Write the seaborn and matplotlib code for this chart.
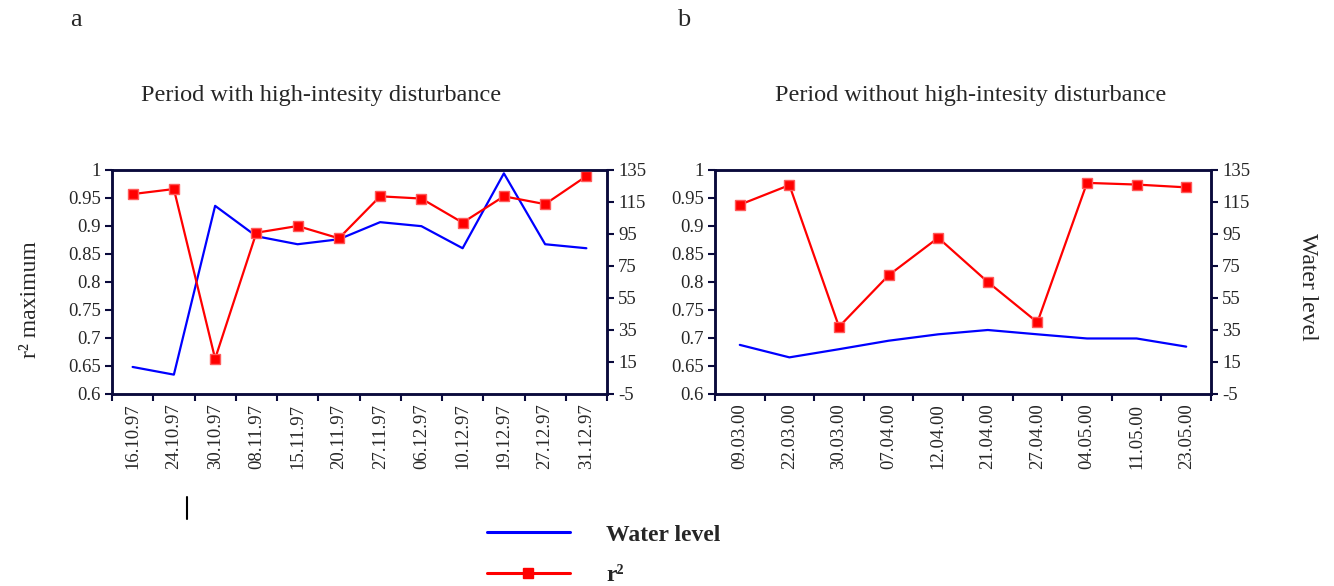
import matplotlib
matplotlib.use("Agg")
import matplotlib.pyplot as plt
import seaborn as sns
import pandas as pd
from matplotlib.lines import Line2D
from matplotlib.ticker import FixedLocator, NullFormatter

# ---------------- data ----------------
dates_a = ["16.10.97", "24.10.97", "30.10.97", "08.11.97", "15.11.97", "20.11.97",
           "27.11.97", "06.12.97", "10.12.97", "19.12.97", "27.12.97", "31.12.97"]
r2_a = [0.957, 0.966, 0.663, 0.888, 0.900, 0.878, 0.953, 0.949, 0.906, 0.953, 0.939, 0.989]
water_a = [11.9, 7.1, 112.6, 93.6, 88.6, 91.7, 102.4, 99.9, 86.1, 132.9, 88.6, 86.1]

dates_b = ["09.03.00", "22.03.00", "30.03.00", "07.04.00", "12.04.00",
           "21.04.00", "27.04.00", "04.05.00", "11.05.00", "23.05.00"]
r2_b = [0.938, 0.973, 0.720, 0.812, 0.879, 0.800, 0.728, 0.977, 0.974, 0.969]
water_b = [25.7, 17.9, 23.0, 28.3, 32.3, 35.0, 32.3, 29.7, 29.7, 24.6]

left_ticks = [0.6, 0.65, 0.7, 0.75, 0.8, 0.85, 0.9, 0.95, 1.0]
right_ticks = [-5, 15, 35, 55, 75, 95, 115, 135]

panel_letters = ["a", "b"]
panel_titles = ["Period with high-intesity disturbance",
                "Period without high-intesity disturbance"]

# ---------------- style ----------------
sns.set_theme(style="white")
plt.rcParams["font.family"] = ["Liberation Serif", "DejaVu Serif"]
SPINE = "#0a0a3c"
RED = "#ff0000"
BLUE = "#0000ff"
TICK_FS = 13.5

fig = plt.figure(figsize=(13.34, 5.86), dpi=100)
H, W = 586, 1334
positions = [
    [112 / W, 1 - 394 / H, 495 / W, 224 / H],
    [715 / W, 1 - 394 / H, 496 / W, 224 / H],
]
title_x = [321 / W, 971 / W]
letter_x = [76 / W, 684 / W]

datasets = [(dates_a, r2_a, water_a), (dates_b, r2_b, water_b)]
for i, (dates, r2, water) in enumerate(datasets):
    df = pd.DataFrame({"pos": range(len(dates)), "r2": r2, "water": water})
    ax = fig.add_axes(positions[i])
    ax2 = ax.twinx()
    ax.set_zorder(ax2.zorder + 1)
    ax.patch.set_visible(False)

    sns.lineplot(data=df, x="pos", y="water", ax=ax2, color=BLUE, lw=1.6,
                 legend=False)
    sns.lineplot(data=df, x="pos", y="r2", ax=ax, color=RED, lw=1.6,
                 marker="s", markersize=7, markerfacecolor=RED,
                 markeredgecolor="#ff5a5a", markeredgewidth=1.0, legend=False)

    n = len(dates)
    ax.set_xlim(-0.5, n - 0.5)
    ax.set_ylim(0.6, 1.0)
    ax2.set_ylim(-5, 135)
    ax.set_yticks(left_ticks)
    ax.set_yticklabels([f"{t:g}" for t in left_ticks])
    ax2.set_yticks(right_ticks)
    ax2.set_yticklabels([f"{t:g}" for t in right_ticks])

    # x ticks: marks at category boundaries, labels at centers
    ax.xaxis.set_major_locator(FixedLocator([k - 0.5 for k in range(n + 1)]))
    ax.xaxis.set_major_formatter(NullFormatter())
    ax.xaxis.set_minor_locator(FixedLocator(list(range(n))))
    ax.set_xticklabels(dates, minor=True, rotation=90, fontsize=TICK_FS)
    ax.tick_params(axis="x", which="minor", length=0, pad=7)
    ax.tick_params(axis="x", which="major", length=5, width=1.5,
                   color=SPINE, direction="out", bottom=True)
    ax.tick_params(axis="y", length=5, width=1.5, color=SPINE,
                   direction="out", left=True, labelsize=TICK_FS, pad=3)
    ax2.tick_params(axis="y", length=5, width=1.5, color=SPINE,
                    direction="out", right=True, labelsize=TICK_FS, pad=3)
    ax.set_xlabel("")
    ax.set_ylabel("")
    ax2.set_ylabel("")
    for a in (ax, ax2):
        for s in a.spines.values():
            s.set_color(SPINE)
            s.set_linewidth(1.8)
    ax.grid(False)
    ax2.grid(False)

    fig.text(title_x[i], 1 - 95 / H, panel_titles[i], ha="center",
             va="center", fontsize=17.5)
    fig.text(letter_x[i], 1 - 20 / H, panel_letters[i], ha="center",
             va="center", fontsize=19)

fig.text(30 / W, 1 - 300 / H, "r² maximum", rotation=90, ha="center",
         va="center", fontsize=17)
fig.text(1307 / W, 1 - 287 / H, "Water level", rotation=270, ha="center",
         va="center", fontsize=17)

# small vertical marker line below panel a
fig.add_artist(Line2D([187 / W, 187 / W], [1 - 497 / H, 1 - 519 / H],
                      transform=fig.transFigure, color="black", lw=1.5))

leg_handles = [
    Line2D([], [], color=BLUE, lw=2.2),
    Line2D([], [], color=RED, lw=2.2, marker="s", markersize=7,
           markerfacecolor=RED, markeredgecolor=RED),
]
fig.legend(leg_handles, ["Water level", "r²"], loc="upper left",
           bbox_to_anchor=(487 / W, 1 - 524 / H), frameon=False,
           prop={"weight": "bold", "size": 17}, handlelength=3.5,
           handletextpad=1.55, labelspacing=0.8, borderpad=0, borderaxespad=0,
           markerscale=1.0)

fig.savefig("out.png", dpi=100)
